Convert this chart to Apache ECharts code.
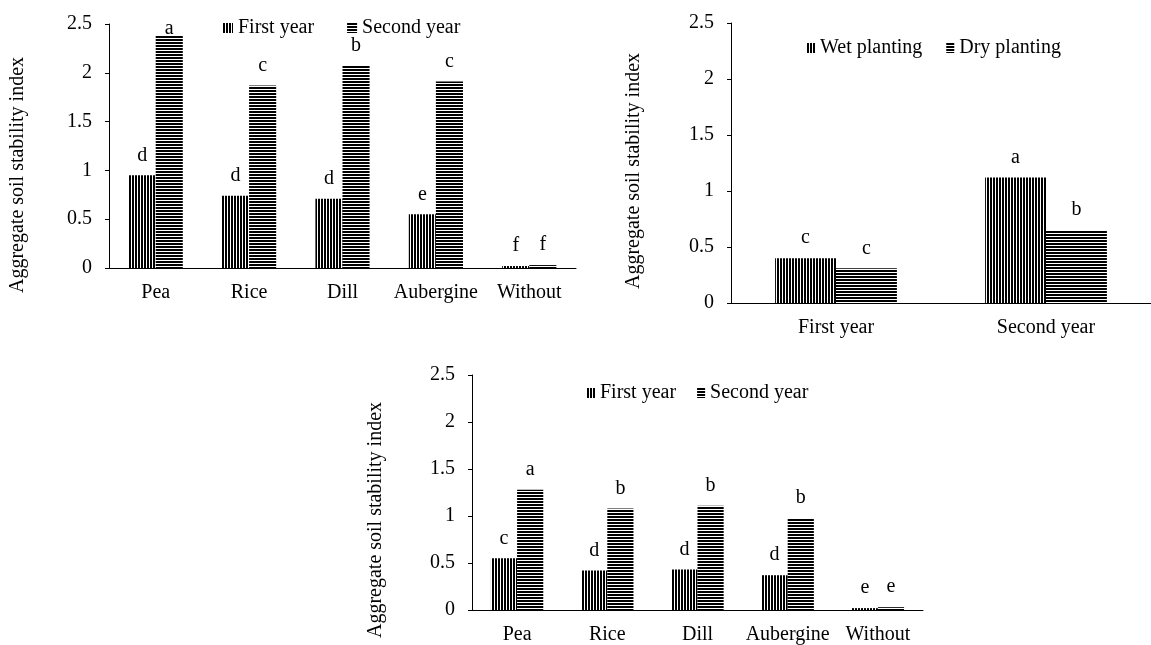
<!DOCTYPE html>
<html>
<head>
<meta charset="utf-8">
<title>Aggregate soil stability index</title>
<script src="https://cdn.jsdelivr.net/npm/echarts@6/dist/echarts.min.js"></script>
<style>
  html, body { margin: 0; padding: 0; background: #fff; }
  #chart { width: 1151px; height: 645px; }
</style>
</head>
<body>
<div id="chart"></div>
<script>
// top-left panel: crops x year
const cropNames = ['Pea', 'Rice', 'Dill', 'Aubergine', 'Without'];
const firstYearTop = [0.95, 0.74, 0.71, 0.55, 0.02];
const secondYearTop = [2.38, 1.87, 2.07, 1.91, 0.03];
const firstLettersTop = ['d', 'd', 'd', 'e', 'f'];
const secondLettersTop = ['a', 'c', 'b', 'c', 'f'];

// top-right panel: planting method x year
const yearNames = ['First year', 'Second year'];
const wetPlanting = [0.40, 1.12];
const dryPlanting = [0.31, 0.65];
const wetLetters = ['c', 'a'];
const dryLetters = ['c', 'b'];

// bottom panel: crops x year
const firstYearBottom = [0.55, 0.42, 0.43, 0.37, 0.02];
const secondYearBottom = [1.28, 1.08, 1.11, 0.98, 0.03];
const firstLettersBottom = ['c', 'd', 'd', 'd', 'e'];
const secondLettersBottom = ['a', 'b', 'b', 'b', 'e'];

const yTicks = [0, 0.5, 1, 1.5, 2, 2.5];
const yTitle = 'Aggregate soil stability index';

const FONT = 'Liberation Serif, Times New Roman, serif';
const text = { fontFamily: FONT, fontSize: 20, color: '#000' };

// black/white hatch used instead of solid fills
function stripes(vertical) {
  const c = document.createElement('canvas');
  c.width = 3;
  c.height = 3;
  const ctx = c.getContext('2d');
  ctx.fillStyle = '#fff';
  ctx.fillRect(0, 0, 3, 3);
  ctx.fillStyle = '#000';
  if (vertical) ctx.fillRect(0, 0, 2, 3);
  else ctx.fillRect(0, 0, 3, 2);
  return { image: c, repeat: 'repeat' };
}

function barSeries(name, values, letters, idx, vertical) {
  return {
    name: name,
    type: 'bar',
    xAxisIndex: idx,
    yAxisIndex: idx,
    barGap: '0%',
    barCategoryGap: '42%',
    // tallest bar: its letter gets pushed down against the top of the plot
    data: values.map(v => v > 2.3 ? { value: v, label: { distance: -3 } } : v),
    itemStyle: { color: stripes(vertical) },
    label: {
      show: true,
      position: 'top',
      distance: 10,
      ...text,
      formatter: p => letters[p.dataIndex]
    }
  };
}

function catAxis(idx, data) {
  return {
    type: 'category',
    gridIndex: idx,
    data: data,
    axisLine: { lineStyle: { color: '#000', width: 1 } },
    axisTick: { alignWithLabel: true, length: 5, lineStyle: { color: '#000' } },
    axisLabel: { ...text, margin: 15, interval: 0 }
  };
}

function valAxis(idx) {
  return {
    type: 'value',
    gridIndex: idx,
    min: yTicks[0],
    max: yTicks[yTicks.length - 1],
    interval: yTicks[1] - yTicks[0],
    splitLine: { show: false },
    axisLine: { show: true, lineStyle: { color: '#000', width: 1 } },
    axisTick: { show: true, length: 4, lineStyle: { color: '#000' } },
    axisLabel: { ...text, margin: 17 }
  };
}

function yName(x, y) {
  return {
    type: 'text',
    x: x,
    y: y,
    rotation: Math.PI / 2,
    style: {
      text: yTitle,
      font: '20px ' + FONT,
      fill: '#000',
      align: 'center',
      verticalAlign: 'middle'
    }
  };
}

const chart = echarts.init(document.getElementById('chart'));

chart.setOption({
  animation: false,
  backgroundColor: '#fff',
  grid: [
    { left: 109, top: 24, width: 467, height: 244 },
    { left: 731, top: 23, width: 427, height: 280 },
    { left: 472, top: 375, width: 451, height: 237 }
  ],
  xAxis: [catAxis(0, cropNames), catAxis(1, yearNames), catAxis(2, cropNames)],
  yAxis: [valAxis(0), valAxis(1), valAxis(2)],
  legend: [
    {
      data: ['First year', 'Second year'],
      left: 223, top: 18, padding: 0,
      icon: 'rect', itemWidth: 10, itemHeight: 10, itemGap: 33,
      selectedMode: false, textStyle: text
    },
    {
      data: ['Wet planting', 'Dry planting'],
      left: 807, top: 38, padding: 0,
      icon: 'rect', itemWidth: 8, itemHeight: 10, itemGap: 24,
      selectedMode: false, textStyle: text
    },
    {
      data: ['First year', 'Second year'],
      left: 587, top: 383, padding: 0,
      icon: 'rect', itemWidth: 8, itemHeight: 10, itemGap: 21,
      selectedMode: false, textStyle: text
    }
  ],
  graphic: [yName(18, 175), yName(634, 171), yName(376, 520)],
  series: [
    barSeries('First year', firstYearTop, firstLettersTop, 0, true),
    barSeries('Second year', secondYearTop, secondLettersTop, 0, false),
    barSeries('Wet planting', wetPlanting, wetLetters, 1, true),
    barSeries('Dry planting', dryPlanting, dryLetters, 1, false),
    barSeries('First year', firstYearBottom, firstLettersBottom, 2, true),
    barSeries('Second year', secondYearBottom, secondLettersBottom, 2, false)
  ]
});

window.addEventListener('resize', () => {
  chart.resize();
});
</script>
</body>
</html>
